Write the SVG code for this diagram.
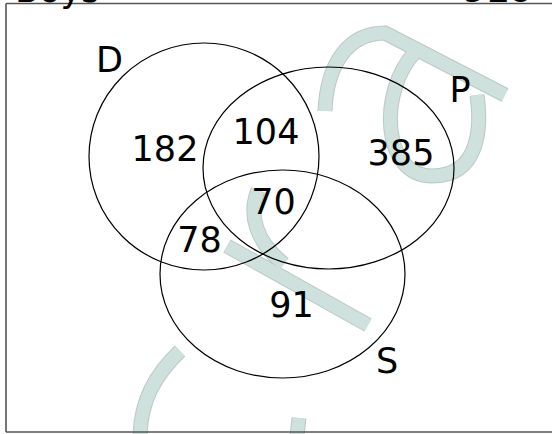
<svg xmlns="http://www.w3.org/2000/svg" width="552" height="434" viewBox="0 0 552 434">
<style>
.wm-o{fill:none;stroke:#b9c9c4;stroke-width:15;stroke-linejoin:miter}
.wm-i{fill:none;stroke:#cfe1dc;stroke-width:13;stroke-linejoin:miter}
.set{fill:none;stroke:#000;stroke-width:1.2}
.lbl{font-family:"DejaVu Sans",sans-serif;font-size:35px;fill:#000;text-anchor:middle}
.frame{stroke:#555;stroke-width:1.6;fill:none}
</style>
<rect width="552" height="434" fill="#fff"/>
<g id="watermark">
<path class="wm-o" d="M325 111 C327 64 348 33 385 33 L505 95"/>
<path class="wm-o" d="M415 52 C378 92 382 176 432 176 C482 176 481 122 477 95"/>
<path class="wm-o" d="M258 190 C248 215 256 242 284 264"/>
<path class="wm-o" d="M227 246 L368 325"/>
<path class="wm-o" d="M180 351 C155 375 141 400 140 436"/>
<path class="wm-o" d="M299 418 L297 436"/>
<path class="wm-i" d="M325 111 C327 64 348 33 385 33 L505 95"/>
<path class="wm-i" d="M415 52 C378 92 382 176 432 176 C482 176 481 122 477 95"/>
<path class="wm-i" d="M258 190 C248 215 256 242 284 264"/>
<path class="wm-i" d="M227 246 L368 325"/>
<path class="wm-i" d="M180 351 C155 375 141 400 140 436"/>
<path class="wm-i" d="M299 418 L297 436"/>
</g>
<g id="frame">
<path class="frame" d="M6 3.5 H552 M6 3.5 V432 M6 432 H552"/>
<text x="15" y="1.5" style="font-family:'DejaVu Sans',sans-serif;font-size:35px">Boys</text>
<text x="463" y="1.5" style="font-family:'DejaVu Sans',sans-serif;font-size:33px;font-weight:bold">910</text>
</g>
<g id="set-D">
<ellipse class="set" cx="204" cy="156.5" rx="115" ry="113.5"/>
<text class="lbl" x="109.5" y="72">D</text>
</g>
<g id="set-P">
<ellipse class="set" cx="328.5" cy="168" rx="125.5" ry="101"/>
<text class="lbl" x="460" y="102">P</text>
</g>
<g id="set-S">
<ellipse class="set" cx="282.5" cy="274" rx="122.5" ry="104"/>
<text class="lbl" x="387" y="373">S</text>
</g>
<g id="regions">
<text class="lbl" x="165" y="161">182</text>
<text class="lbl" x="266" y="144">104</text>
<text class="lbl" x="401" y="165">385</text>
<text class="lbl" x="273.5" y="214">70</text>
<text class="lbl" x="199.5" y="252">78</text>
<text class="lbl" x="291.5" y="317">91</text>
</g>
</svg>
